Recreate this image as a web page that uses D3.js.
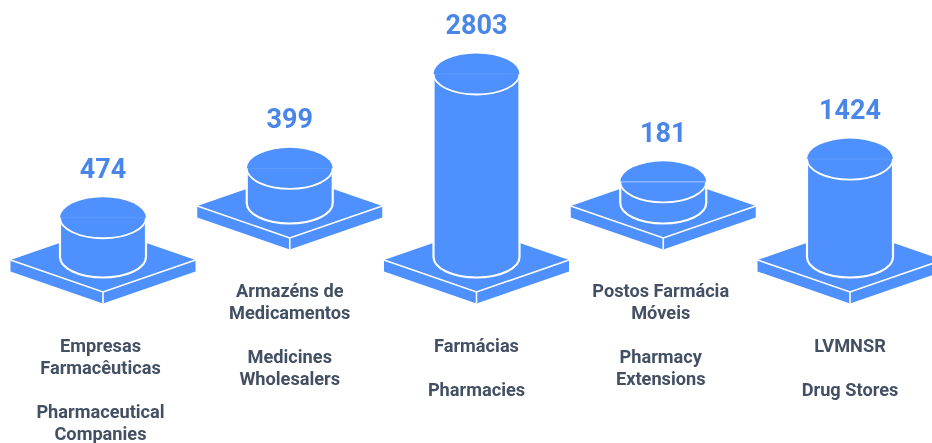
<!DOCTYPE html>
<html>
<head>
<meta charset="utf-8">
<style>
  html, body { margin: 0; padding: 0; background: #fff; overflow: hidden; }
  svg { display: block; font-family: Roboto, sans-serif; filter: blur(0.35px); }
</style>
<script src="https://cdn.jsdelivr.net/npm/d3@7"></script>
</head>
<body>
<svg width="932" height="443"></svg>
<script>
const categories = ['Empresas Farmacêuticas', 'Armazéns de Medicamentos', 'Farmácias', 'Postos Farmácia Móveis', 'LVMNSR'];
const values = [474, 399, 2803, 181, 1424];
const labelLines = [
  ['Empresas', 'Farmacêuticas', '', 'Pharmaceutical', 'Companies'],
  ['Armazéns de', 'Medicamentos', '', 'Medicines', 'Wholesalers'],
  ['Farmácias', '', 'Pharmacies'],
  ['Postos Farmácia', 'Móveis', '', 'Pharmacy', 'Extensions'],
  ['LVMNSR', '', 'Drug Stores']
];

const blue = '#4d90fe';
const plateW = 92.5, plateH = 32, plateSide = 11.5;
const rx = 43, ry = 20.5;
const lowBase = 257, highBase = 203;
const lowLabel = 345.5, highLabel = 291, lineStep = 22;
// first and fourth text blocks sit a little left of their cylinder
const labelShift = i => (i === 0 || i === 3) ? -2.5 : 0;

const x = d3.scalePoint().domain(categories).range([103, 850]);
const h = d3.scaleLinear().domain([0, 2803]).range([10, 183]);

const rows = categories.map((c, i) => ({ c, v: values[i], lines: labelLines[i], i }));

const svg = d3.select('svg');

const groups = svg.selectAll('g.item')
  .data(rows)
  .enter()
  .append('g')
  .attr('class', 'item')
  .attr('transform', d => `translate(${x(d.c)},${d.i % 2 ? highBase : lowBase})`);

// plate
const plateY = 3;
groups.append('path')
  .attr('fill', blue)
  .attr('d', `M${-plateW},${plateY} L0,${plateY - plateH} L${plateW},${plateY} V${plateY + plateSide} L0,${plateY + plateH + plateSide} L${-plateW},${plateY + plateSide} Z`);
groups.append('path')
  .attr('fill', 'none')
  .attr('stroke', '#fff')
  .attr('stroke-width', 1.6)
  .attr('d', `M${-plateW},${plateY} L0,${plateY + plateH} L${plateW},${plateY} M0,${plateY + plateH} V${plateY + plateH + plateSide}`);

// cylinder
const body = d => {
  const t = -h(d.v);
  return `M${-rx},${t} V0 A${rx},${ry} 0 0 0 ${rx},0 V${t} A${rx},${ry} 0 0 0 ${-rx},${t} Z`;
};
groups.append('path')
  .attr('d', body)
  .attr('fill', blue)
  .attr('stroke', '#fff')
  .attr('stroke-width', 2.2);
groups.append('ellipse')
  .attr('cy', d => -h(d.v))
  .attr('rx', rx)
  .attr('ry', ry)
  .attr('fill', blue);
groups.append('path')
  .attr('fill', 'none')
  .attr('stroke', '#fff')
  .attr('stroke-width', 1.8)
  .attr('d', d => `M${-rx},${-h(d.v)} A${rx},${ry} 0 0 0 ${rx},${-h(d.v)}`);
groups.append('line')
  .attr('x1', -rx).attr('x2', rx)
  .attr('y1', d => -h(d.v)).attr('y2', d => -h(d.v))
  .attr('stroke', '#fff')
  .attr('stroke-opacity', d => d.v < 300 ? 0.5 : 0.1)
  .attr('stroke-width', 1);

// value on top
groups.append('text')
  .attr('y', d => -h(d.v) - 49.5)
  .attr('dy', '0.35em')
  .attr('text-anchor', 'middle')
  .attr('font-size', 27)
  .attr('font-weight', 700)
  .attr('fill', '#4a86e8')
  .text(d => d.v);

// labels
svg.selectAll('g.label')
  .data(rows)
  .enter()
  .append('g')
  .attr('class', 'label')
  .attr('transform', d => `translate(${x(d.c) + labelShift(d.i)},${d.i % 2 ? highLabel : lowLabel})`)
  .selectAll('text')
  .data(d => d.lines)
  .enter()
  .append('text')
  .attr('y', (d, i) => i * lineStep)
  .attr('dy', '0.35em')
  .attr('text-anchor', 'middle')
  .attr('font-size', 18.2)
  .attr('font-weight', 700)
  .attr('fill', '#434f63')
  .text(d => d);
</script>
</body>
</html>
